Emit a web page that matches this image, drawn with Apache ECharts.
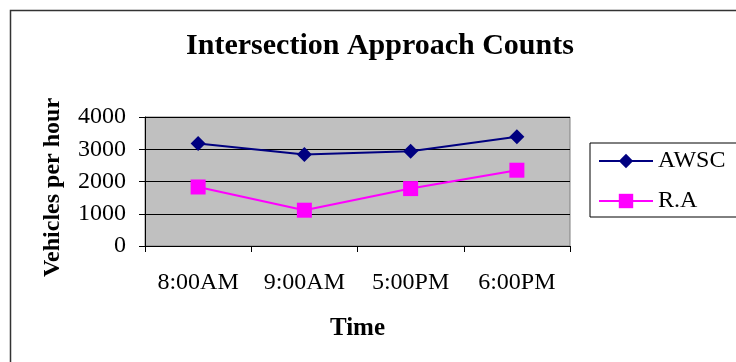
<!DOCTYPE html>
<html>
<head>
<meta charset="utf-8">
<script src="https://cdn.jsdelivr.net/npm/echarts@6/dist/echarts.min.js"></script>
<style>
  html, body { margin: 0; padding: 0; background: #fff; }
  #chart { width: 736px; height: 362px; }
</style>
</head>
<body>
<div id="chart"></div>
<script>
// Time periods on the x axis
const categories = ['8:00AM', '9:00AM', '5:00PM', '6:00PM'];
// Vehicles per hour for each approach control type
const awscValues = [3180, 2840, 2940, 3390];
const raValues = [1830, 1110, 1780, 2350];
const yTicks = [0, 1000, 2000, 3000, 4000];

const serif = "'Liberation Serif', 'Times New Roman', serif";

const chart = echarts.init(document.getElementById('chart'));
chart.setOption({
  animation: false,
  backgroundColor: '#fff',
  graphic: [{
    type: 'rect',
    shape: { x: 10.5, y: 10.5, width: 760, height: 400 },
    style: { fill: 'none', stroke: '#333', lineWidth: 1.5 },
    silent: true
  }],
  title: {
    text: 'Intersection Approach Counts',
    left: 375, top: 26, textAlign: 'center',
    textStyle: { fontFamily: serif, fontSize: 30, fontWeight: 'bold', color: '#000' }
  },
  grid: {
    left: 145, right: 166, top: 117, bottom: 116,
    show: true, backgroundColor: '#C0C0C0', borderColor: '#808080', borderWidth: 1
  },
  legend: {
    orient: 'vertical',
    left: 590, top: 143,
    padding: [6, 40, 4, 8],
    itemGap: 16,
    itemWidth: 54, itemHeight: 18,
    borderColor: '#000', borderWidth: 1,
    textStyle: { fontFamily: serif, fontSize: 24, color: '#000' },
    data: ['AWSC', 'R.A']
  },
  xAxis: {
    type: 'category',
    data: categories,
    boundaryGap: true,
    name: 'Time',
    nameLocation: 'middle',
    nameGap: 70,
    nameTextStyle: { fontFamily: serif, fontSize: 25, fontWeight: 'bold', color: '#000' },
    axisLine: { lineStyle: { color: '#000', width: 1 } },
    axisTick: { show: true, length: 6, lineStyle: { color: '#000' } },
    axisLabel: { fontFamily: serif, fontSize: 24, color: '#000', margin: 25 }
  },
  yAxis: {
    type: 'value',
    min: yTicks[0], max: yTicks[yTicks.length - 1], interval: 1000,
    name: 'Vehicles per hour',
    nameLocation: 'middle',
    nameGap: 80,
    nameRotate: 90,
    nameTextStyle: { fontFamily: serif, fontSize: 24, fontWeight: 'bold', color: '#000', padding: [0, 12, 0, 0] },
    axisLine: { show: true, lineStyle: { color: '#000', width: 1 } },
    axisTick: { show: true, length: 6, lineStyle: { color: '#000' } },
    axisLabel: { fontFamily: serif, fontSize: 24, color: '#000', margin: 19, formatter: v => String(v) },
    splitLine: { show: true, lineStyle: { color: '#000', width: 1 } }
  },
  series: [
    {
      name: 'AWSC', type: 'line', data: awscValues,
      symbol: 'diamond', symbolSize: 15,
      itemStyle: { color: '#000080' },
      lineStyle: { color: '#000080', width: 2 }
    },
    {
      name: 'R.A', type: 'line', data: raValues,
      symbol: 'rect', symbolSize: 15,
      itemStyle: { color: '#FF00FF' },
      lineStyle: { color: '#FF00FF', width: 2 }
    }
  ]
});
</script>
</body>
</html>
